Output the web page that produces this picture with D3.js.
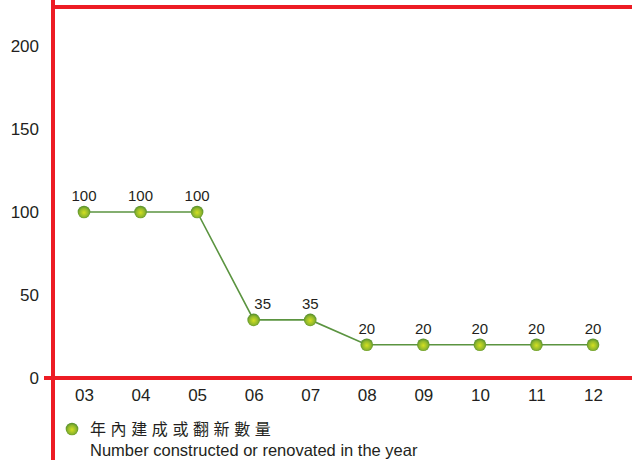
<!DOCTYPE html>
<html>
<head>
<meta charset="utf-8">
<script src="https://cdn.jsdelivr.net/npm/d3@7"></script>
<style>
  body { margin: 0; background: #fff; }
  svg { display: block; font-family: "Liberation Sans", Arial, sans-serif; }
</style>
</head>
<body>
<div id="chart-area"></div>
<script>

// data
let years = ["03", "04", "05", "06", "07", "08", "09", "10", "11", "12"];
let counts = [100, 100, 100, 35, 35, 20, 20, 20, 20, 20];
let yTicks = [0, 50, 100, 150, 200];

let legendZh = "年內建成或翻新數量";
let legendEn = "Number constructed or renovated in the year";

let width = 632, height = 460;
let red = "#ed1c24", ink = "#231f20", green = "#5b9440";

let svg = d3.select("#chart-area").append("svg")
	.attr("width", width)
	.attr("height", height);

let defs = svg.append("defs");
let grad = defs.append("radialGradient")
	.attr("id", "dot")
	.attr("cx", "50%").attr("cy", "55%").attr("r", "55%");
grad.append("stop").attr("offset", "0%").attr("stop-color", "#d4e021");
grad.append("stop").attr("offset", "60%").attr("stop-color", "#93b92c");
grad.append("stop").attr("offset", "100%").attr("stop-color", "#4f8a2e");

// scales
let x = d3.scalePoint()
	.domain(years)
	.range([84, 593]);

let y = d3.scaleLinear()
	.domain([0, 200])
	.range([378, 46]);

// y axis labels
let yAxis = d3.axisLeft(y)
	.tickValues(yTicks)
	.tickSize(0)
	.tickPadding(0);

svg.append("g")
	.attr("transform", "translate(39,0)")
	.call(yAxis)
	.call(g => g.select(".domain").remove())
	.selectAll("text")
		.attr("fill", ink)
		.attr("font-size", 17)
		.attr("font-family", "Liberation Sans, Arial, sans-serif");

// x axis labels
let xAxis = d3.axisBottom(x)
	.tickSize(0)
	.tickPadding(0);

svg.append("g")
	.attr("transform", "translate(0,389)")
	.call(xAxis)
	.call(g => g.select(".domain").remove())
	.selectAll("text")
		.attr("fill", ink)
		.attr("font-size", 17)
		.attr("font-family", "Liberation Sans, Arial, sans-serif");

// red frame lines
svg.append("line")
	.attr("x1", 53).attr("x2", width)
	.attr("y1", 7).attr("y2", 7)
	.attr("stroke", red).attr("stroke-width", 4);

svg.append("line")
	.attr("x1", 44).attr("x2", width)
	.attr("y1", y(0)).attr("y2", y(0))
	.attr("stroke", red).attr("stroke-width", 4);

svg.append("line")
	.attr("x1", 53).attr("x2", 53)
	.attr("y1", 0).attr("y2", height)
	.attr("stroke", red).attr("stroke-width", 4);

// line
let points = years.map((yr, i) => ({year: yr, value: counts[i], i: i}));

let line = d3.line()
	.x(d => x(d.year))
	.y(d => y(d.value));

svg.append("path")
	.datum(points)
	.attr("d", line)
	.attr("fill", "none")
	.attr("stroke", green)
	.attr("stroke-width", 1.6);

svg.selectAll("circle.marks")
	.data(points)
	.enter()
	.append("circle")
	.attr("class", "marks")
	.attr("cx", d => x(d.year))
	.attr("cy", d => y(d.value))
	.attr("r", 6.3)
	.attr("fill", "url(#dot)");

// value labels, nudged right where a steep drop comes in
svg.selectAll("text.val")
	.data(points)
	.enter()
	.append("text")
	.attr("class", "val")
	.attr("x", d => x(d.year) + (d.i > 0 && counts[d.i - 1] - d.value > 50 ? 9 : 0))
	.attr("y", d => y(d.value) - 11)
	.attr("text-anchor", "middle")
	.attr("font-size", 15)
	.attr("fill", ink)
	.text(d => d.value);

// legend
svg.append("circle")
	.attr("cx", 72).attr("cy", 429)
	.attr("r", 6.3)
	.attr("fill", "url(#dot)");

svg.append("text")
	.attr("x", 90).attr("y", 435)
	.attr("font-family", "Noto Sans CJK TC, sans-serif")
	.attr("font-size", 16)
	.attr("letter-spacing", 4.6)
	.attr("fill", ink)
	.text(legendZh);

svg.append("text")
	.attr("x", 90).attr("y", 456)
	.attr("font-size", 16.5)
	.attr("fill", ink)
	.text(legendEn);

</script>
</body>
</html>
